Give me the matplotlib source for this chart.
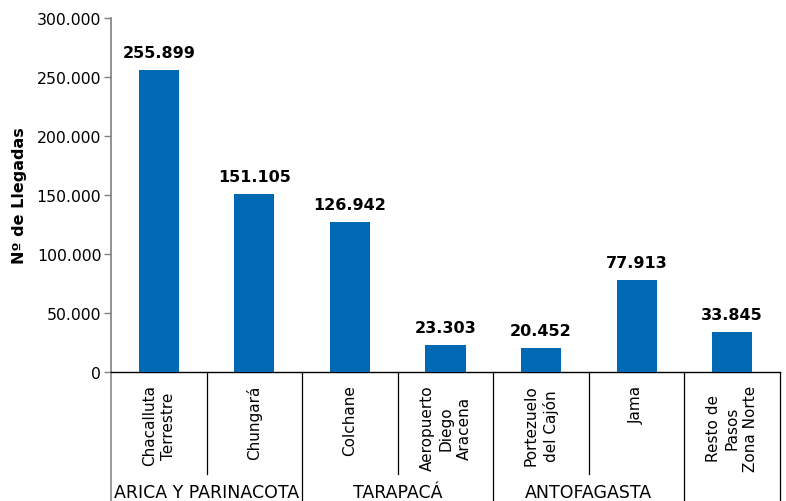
import matplotlib
matplotlib.use("Agg")
import matplotlib.pyplot as plt
from matplotlib.transforms import blended_transform_factory
from matplotlib.ticker import FuncFormatter, MultipleLocator

categories = ["Chacalluta\nTerrestre", "Chungará", "Colchane",
              "Aeropuerto\nDiego\nAracena", "Portezuelo\ndel Cajón", "Jama",
              "Resto de\nPasos\nZona Norte"]
values = [255899, 151105, 126942, 23303, 20452, 77913, 33845]
groups = ["ARICA Y PARINACOTA", "TARAPACÁ", "ANTOFAGASTA", ""]
group_sizes = [2, 2, 2, 1]
ylabel = "Nº de Llegadas"

plt.rcParams['font.family'] = ['DejaVu Sans']

def fmt(v):
    return f"{int(round(v)):,}".replace(",", ".")

W, H = 786, 502
fig = plt.figure(figsize=(W / 100, H / 100), dpi=100)
ax = fig.add_axes([111 / W, 1 - 373 / H, (780 - 111) / W, (373 - 19) / H])

x = list(range(len(categories)))
bars = ax.bar(x, values, width=0.42, color="#0069B4", zorder=3)

ax.set_xlim(-0.5, len(categories) - 0.5)
ax.set_ylim(0, 300000)
ax.yaxis.set_major_locator(MultipleLocator(50000))
ax.yaxis.set_major_formatter(FuncFormatter(lambda v, p: fmt(v)))
ax.tick_params(axis="y", direction="out", length=5, width=1, color="#808080",
               labelsize=11.3, pad=2)
ax.set_xticks([])
for s in ["top", "right"]:
    ax.spines[s].set_visible(False)
ax.spines["left"].set_color("#808080")
ax.spines["left"].set_linewidth(1.2)
ax.spines["bottom"].set_color("black")
ax.spines["bottom"].set_linewidth(1)

ax.set_ylabel(ylabel, fontsize=11.5, fontweight="bold")
ax.yaxis.set_label_coords((27 - 111) / (780 - 111), 0.5)

for xi, v in zip(x, values):
    ax.annotate(fmt(v), xy=(xi, v), xytext=(0, 7), textcoords="offset points",
                ha="center", va="bottom", fontsize=11.5, fontweight="bold")

trans = blended_transform_factory(ax.transData, ax.transAxes)
axh = 373 - 19
for xi, c in zip(x, categories):
    ax.annotate(c, xy=(xi, 0), xycoords=trans, xytext=(0, -9),
                textcoords="offset points", rotation=90, ha="center", va="top",
                multialignment="center", fontsize=11, linespacing=1.3)

# separator lines
inner_depth = -(475 - 373) / axh
outer_depth = -(510 - 373) / axh
start = 0
boundaries = [-0.5]
for g, n in zip(groups, group_sizes):
    lo = start - 0.5
    hi = start + n - 0.5
    for k in range(1, n):
        xb = start + k - 0.5
        ax.plot([xb, xb], [0, inner_depth], transform=trans, color="black",
                lw=0.9, clip_on=False)
    boundaries.append(hi)
    if g:
        ax.text((lo + hi) / 2, -(493 - 373) / axh, g, transform=trans,
                ha="center", va="center", fontsize=12.5, clip_on=False)
    start += n
for i, xb in enumerate(boundaries):
    ax.plot([xb, xb], [0, outer_depth], transform=trans,
            color="#808080" if i == 0 else "black", lw=1.1 if i == 0 else 0.9,
            clip_on=False)

fig.savefig("out.png", dpi=100)
